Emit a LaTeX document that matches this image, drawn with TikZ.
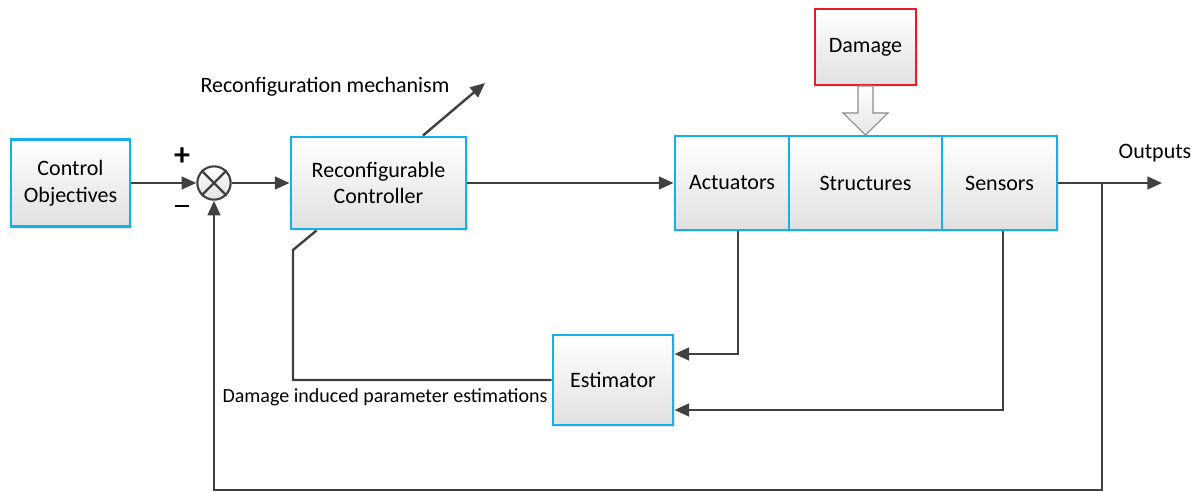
\documentclass[tikz,border=0pt]{standalone}
\usepackage{fontspec}
\setmainfont{Carlito}
\usetikzlibrary{arrows.meta,shadows,calc}
\definecolor{boxblue}{RGB}{22,176,232}
\definecolor{linegray}{RGB}{64,64,64}
\definecolor{dmgred}{RGB}{228,30,38}
\begin{document}
\begin{tikzpicture}[x=0.75pt,y=-0.75pt,
 blk/.style={draw=boxblue, line width=2.2pt, top color=white, bottom color=black!12, align=center, inner sep=0pt,
   font=\fontsize{16.5}{20}\selectfont, drop shadow={opacity=0.18,shadow xshift=1.5pt,shadow yshift=-1.5pt}},
 ln/.style={draw=linegray, line width=1.8pt},
 arr/.style={ln, -{Triangle[length=11pt,width=9.5pt]}},
 lbl/.style={font=\fontsize{16.5}{20}\selectfont, inner sep=0pt},
]
\useasboundingbox (0,0) rectangle (1199,492);

\node[blk, minimum width=89.25pt, minimum height=65.25pt] (ctrl) at (70.5,183) {Control\\Objectives};
\node[draw=linegray, line width=1.6pt, circle, minimum size=25pt, inner sep=0pt, top color=white, bottom color=black!12] (sum) at (214,183) {};
\draw[linegray, line width=1.7pt] (sum.45) -- (sum.225) (sum.135) -- (sum.315);
\node[blk, minimum width=131.25pt, minimum height=69pt] (rc) at (378.5,183) {Reconfigurable\\Controller};
\node[blk, minimum width=85.5pt, minimum height=70.5pt] (act) at (732,183) {Actuators};
\node[blk, minimum width=114.75pt, minimum height=70.5pt] (str) at (865.5,183) {Structures};
\node[blk, minimum width=86.25pt, minimum height=70.5pt] (sen) at (999.5,183) {Sensors};
\node[blk, draw=dmgred, minimum width=75.75pt, minimum height=57pt] (dmg) at (865.5,47) {Damage};
\node[blk, minimum width=90pt, minimum height=67.5pt] (est) at (613,380) {Estimator};

% hollow arrow from Damage to Structures
\draw[black!45, line width=0.8pt, top color=white, bottom color=black!10]
  (858,86) -- (858,113) -- (843,113) -- (865.5,135) -- (888,113) -- (873,113) -- (873,86) -- cycle;

% labels
\node[font=\fontsize{24}{24}\selectfont\bfseries, inner sep=0pt] (plus) at (182,157) {+};
\node[inner sep=0pt, text=black] (minus) at (182,206) {\rule{10.5pt}{1.6pt}};
\node[lbl] (rml) at (325,87) {Reconfiguration mechanism};
\node[lbl] (outl) at (1155,153) {Outputs};
\node[font=\fontsize{15}{18}\selectfont, inner sep=0pt] (dipe) at (385,397) {Damage induced parameter estimations};

% connectors
\draw[arr] (ctrl) -- (sum);
\draw[arr] (sum) -- (rc);
\draw[arr] (rc) -- (act);
\coordinate (rm) at (485,83);
\draw[arr] ($(rc.north)+(44.5,0)$) -- (rm);

\coordinate (k1) at (293,250);
\draw[ln] ($(rc.south west)+(27,0)$) -- (k1) |- (est.west);

\draw[arr] ($(act.south)+(6,0)$) |- ($(est.east)+(0,-26)$);
\draw[arr] ($(sen.south)+(3.5,0)$) |- ($(est.east)+(0,30)$);

\coordinate (out) at (1162,183);
\draw[arr] (sen) -- (out);
\coordinate (br) at (1102,183);
\coordinate (bot) at (1102,490);
\draw[arr] (br) -- (bot) -| (sum.south);
\end{tikzpicture}
\end{document}
